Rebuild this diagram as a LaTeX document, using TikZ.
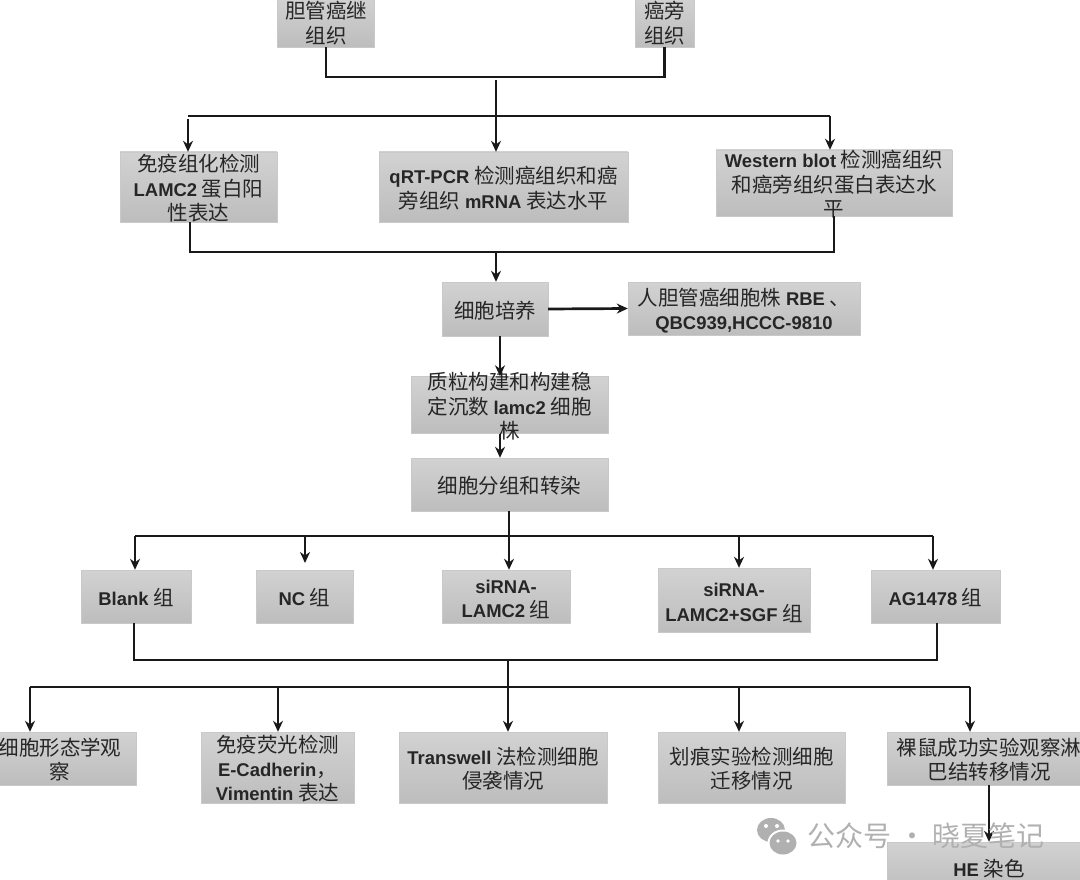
\documentclass[tikz,border=0pt]{standalone}
\usepackage{fontspec}
\setmainfont{Noto Sans CJK SC}
\newfontfamily\latfont[Scale=0.9]{Liberation Sans}
\newcommand{\lat}[1]{{\latfont\bfseries #1}}
\newcommand{\tight}[1]{\smash{\raisebox{-.45em}{\begin{tabular}{@{}c@{}}#1\end{tabular}}}}
\definecolor{boxtop}{HTML}{D2D2D2}
\definecolor{boxbot}{HTML}{BDBDBD}
\definecolor{boxedge}{HTML}{C9C9C9}
\definecolor{markgray}{HTML}{B0B0B0}
\usetikzlibrary{arrows.meta}
\tikzset{
    stage/.style={draw=boxedge, top color=boxtop, bottom color=boxbot, inner sep=0pt, text=black!85,
        font=\fontsize{20.5}{24}\selectfont},
    wire/.style={line width=2.7pt, black!90},
    link/.style={wire, -{Stealth[length=11pt, width=10pt]}},
}
\begin{document}
\begin{tikzpicture}[x=1pt, y=-1pt]
    \useasboundingbox (0,0) rectangle (1080,880);
    \clip (0,0) rectangle (1080,880);
    \node[stage, minimum width=97pt, minimum height=50pt] (tumor) at (326,22) {\tight{胆管癌继\\组织}};
    \node[stage, minimum width=59pt, minimum height=50pt] (para) at (664.5,22) {\tight{癌旁\\组织}};
    \node[stage, minimum width=157pt, minimum height=70pt] (ihc) at (198.5,187) {\tight{免疫组化检测\\\lat{LAMC2} 蛋白阳\\性表达}};
    \node[stage, minimum width=249pt, minimum height=70pt] (pcr) at (503.5,187) {\tight{\lat{qRT-PCR} 检测癌组织和癌\\旁组织 \lat{mRNA} 表达水平}};
    \node[stage, minimum width=236pt, minimum height=66pt] (wb) at (834,183) {\tight{\lat{Western blot} 检测癌组织\\和癌旁组织蛋白表达水\\平}};
    \node[stage, minimum width=106pt, minimum height=54pt] (culture) at (495,309) {\tight{细胞培养}};
    \node[stage, minimum width=232pt, minimum height=53pt] (lines) at (744,308.5) {\tight{人胆管癌细胞株 \lat{RBE} 、\\\lat{QBC939,HCCC-9810}}};
    \node[stage, minimum width=197pt, minimum height=57pt] (plasmid) at (509.5,405) {\tight{质粒构建和构建稳\\定沉数 \lat{lamc2} 细胞\\株}};
    \node[stage, minimum width=197pt, minimum height=53pt] (group) at (509.5,484.5) {\tight{细胞分组和转染}};
    \node[stage, minimum width=110pt, minimum height=53pt] (blank) at (136,596.5) {\tight{\lat{Blank} 组}};
    \node[stage, minimum width=97pt, minimum height=53pt] (nc) at (304.5,596.5) {\tight{\lat{NC} 组}};
    \node[stage, minimum width=128pt, minimum height=53pt] (si) at (506,596.5) {\tight{\lat{siRNA-}\\\lat{LAMC2} 组}};
    \node[stage, minimum width=152pt, minimum height=64pt] (sgf) at (734,600) {\tight{\lat{siRNA-}\\\lat{LAMC2+SGF} 组}};
    \node[stage, minimum width=129pt, minimum height=53pt] (ag) at (935.5,596.5) {\tight{\lat{AG1478} 组}};
    \node[stage, minimum width=152pt, minimum height=53pt] (morph) at (60,758.5) {\tight{细胞形态学观\\察}};
    \node[stage, minimum width=153pt, minimum height=71pt] (fluor) at (277.5,767.5) {\tight{免疫荧光检测\\\lat{E-Cadherin}，\\\lat{Vimentin} 表达}};
    \node[stage, minimum width=208pt, minimum height=71pt] (trans) at (503,767.5) {\tight{\lat{Transwell} 法检测细胞\\侵袭情况}};
    \node[stage, minimum width=187pt, minimum height=71pt] (scratch) at (751.5,767.5) {\tight{划痕实验检测细胞\\迁移情况}};
    \node[stage, minimum width=204pt, minimum height=53pt] (mouse) at (989,758.5) {\tight{裸鼠成功实验观察淋\\巴结转移情况}};
    \node[stage, minimum width=204pt, minimum height=50pt] (he) at (989,867) {\tight{\lat{HE} 染色}};
    \coordinate (joina) at (496,77);
    \coordinate (bara) at (188,116);
    \coordinate (barb) at (830,116);
    \coordinate (joinb) at (496,252);
    \coordinate (plas) at (500,336);
    \coordinate (barc) at (135,536);
    \coordinate (bard) at (933,536);
    \coordinate (nctap) at (305,536);
    \coordinate (sgftap) at (739,536);
    \coordinate (groupout) at (509,511);
    \coordinate (blankout) at (134,623);
    \coordinate (agout) at (937,623);
    \coordinate (joinc) at (508,660);
    \coordinate (bare) at (30,687);
    \coordinate (barf) at (970,687);
    \coordinate (fluortap) at (278,687);
    \coordinate (scrtap) at (739,687);
    \draw[wire] (tumor.south) |- (para.south |- joina) -- (para.south);
    \draw[link] (joina |- 0,80) -- (joina |- pcr.north);
    \draw[wire] (bara) -- (barb);
    \draw[link] (bara |- 0,119) -- (bara |- ihc.north);
    \draw[link] (barb) -- (barb |- wb.north);
    \draw[wire] (ihc.south -| 190,0) |- (joinb -| 834,0) -- (wb.south -| 834,0);
    \draw[link] (joinb) -- (joinb |- culture.north);
    \draw[link] (culture.east) -- (lines.west);
    \draw[link] (plas) -- (plas |- plasmid.north);
    \draw[link] (plas |- plasmid.south) -- (plas |- group.north);
    \draw[link] (groupout) -- (groupout |- si.north);
    \draw[wire] (barc) -- (bard);
    \draw[link] (barc) -- (barc |- blank.north);
    \draw[link] (nctap) -- (nctap |- 0,563);
    \draw[link] (sgftap) -- (sgftap |- sgf.north);
    \draw[link] (bard) -- (bard |- ag.north);
    \draw[wire] (blankout) |- (agout |- joinc) -- (agout);
    \draw[link] (joinc) -- (joinc |- trans.north);
    \draw[wire] (bare) -- (barf);
    \draw[link] (bare) -- (bare |- morph.north);
    \draw[link] (fluortap) -- (fluortap |- fluor.north);
    \draw[link] (scrtap) -- (scrtap |- scratch.north);
    \draw[link] (barf) -- (barf |- mouse.north);
    \draw[link] (mouse.south) -- (he.north);
    \fill[markgray] (771,830) ellipse (14pt and 12pt);
    \fill[white] (783,843) ellipse (15.5pt and 13.5pt);
    \fill[markgray] (783,843) ellipse (13.5pt and 11.5pt);
    \fill[white] (766,826) circle (2pt) (777,826) circle (2pt) (778,841) circle (1.8pt) (788,841) circle (1.8pt);
    \node[text=markgray, font=\fontsize{28}{30}\selectfont] (mark) at (926,836) {公众号 · 晓夏笔记};
\end{tikzpicture}
\end{document}
